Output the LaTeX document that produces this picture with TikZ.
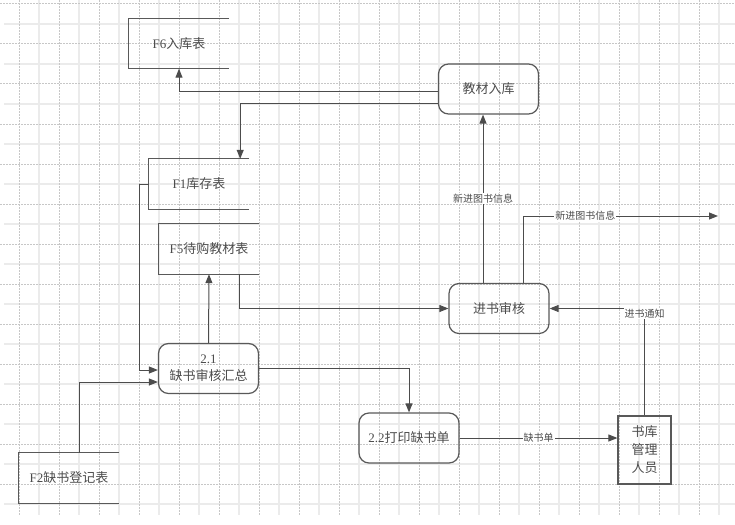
\documentclass[tikz,border=0pt]{standalone}
\usepackage{fontspec}
\setmainfont{Liberation Serif}
\newfontfamily\cjk{Noto Sans CJK SC}
\newcommand\zh[1]{{\cjk #1}}
\usetikzlibrary{arrows.meta, calc}
\tikzset{process/.style={draw=black!65, line width=1.2pt, rounded corners=10pt, minimum width=100pt, minimum height=50pt, align=center, text=black!70, font=\fontsize{13}{17}\selectfont}}
\tikzset{store/.style={minimum width=100pt, minimum height=50pt, text=black!70, font=\fontsize{13}{17}\selectfont}}
\tikzset{storeline/.style={draw=black!65, line width=1.2pt}}
\tikzset{entity/.style={draw=black!65, line width=1.2pt, minimum width=53pt, minimum height=68pt, align=center, text=black!70, font=\fontsize{13}{18}\selectfont\cjk}}
\tikzset{flow/.style={draw=black!70, line width=1pt, -{Triangle[length=9pt,width=7pt]}}}
\tikzset{lbl/.style={fill=white, inner sep=1pt, text=black!70, font=\fontsize{10}{12}\selectfont\cjk}}
\tikzset{gridsolid/.style={draw=black!8, line width=1.5pt}}
\tikzset{griddashed/.style={draw=black!22, line width=1pt, dash pattern=on 2pt off 1pt}}

\begin{document}
\begin{tikzpicture}[x=1pt, y=-1pt]
  \useasboundingbox (0,0) rectangle (735,524);

  \foreach \x in {39,79,...,719} \draw[gridsolid] (\x,0) -- (\x,515);
  \foreach \y in {24,64,...,504} \draw[gridsolid] (4,\y) -- (735,\y);
  \foreach \x in {19,59,...,699} \draw[griddashed] (\x,0) -- (\x,515);
  \foreach \y in {4,44,...,484} \draw[griddashed] (0,\y) -- (735,\y);

  \node[store] (f6) at (179,43.5) {F6\zh{入库表}};
  \node[store] (f1) at (199,184) {F1\zh{库存表}};
  \node[store] (f5) at (209,249) {F5\zh{待购教材表}};
  \node[store] (f2) at (69,478) {F2\zh{缺书登记表}};
  \draw[storeline] (f6.north east) -| (f6.south west) -- (f6.south east);
  \draw[storeline] (f1.north east) -| (f1.south west) -- (f1.south east);
  \draw[storeline] (f5.north east) -| (f5.south west) -- (f5.south east);
  \draw[storeline] (f2.north east) -| (f2.south west) -- (f2.south east);

  \node[process] (pin) at (488.5,89) {\zh{教材入库}};
  \node[process] (pchk) at (499,308.5) {\zh{进书审核}};
  \node[process] (p21) at (208.5,368.5) {2.1\\\zh{缺书审核汇总}};
  \node[process] (p22) at (409,438) {2.2\zh{打印缺书单}};
  \node[entity] (mgr) at (644.5,450) {书库\\管理\\人员};
  \coordinate (out) at (718,216);

  \draw[flow] ($(pin.west)+(0,3)$) -| (f6.south);
  \draw[flow] ($(pin.west)+(0,15)$) -| ($(f1.north east)+(-9,0)$);
  \draw[flow] (f1.west) -- ++(-9,0) |- ($(p21.west)+(0,1.5)$);
  \draw[flow] ($(f2.north)+(10,0)$) |- ($(p21.west)+(0,13.5)$);
  \draw[flow] (p21.north) -- (f5.south);
  \draw[flow] ($(f5.south)+(30,0)$) |- (pchk.west);
  \draw[flow] ($(pchk.north)+(-16,0)$) coordinate (a) -- (a |- pin.south)
    node[lbl, pos=.5] {新进图书信息};
  \draw[flow] ($(pchk.north)+(24,0)$) |- (out)
    node[lbl, pos=.66] {新进图书信息};
  \draw[flow] (mgr.north) |- (pchk.east)
    node[lbl, pos=.5, yshift=-5pt] {进书通知};
  \draw[flow] (p21.east) -| (p22.north);
  \draw[flow] (p22.east) -- (p22.east -| mgr.west)
    node[lbl, midway] {缺书单};
\end{tikzpicture}
\end{document}
